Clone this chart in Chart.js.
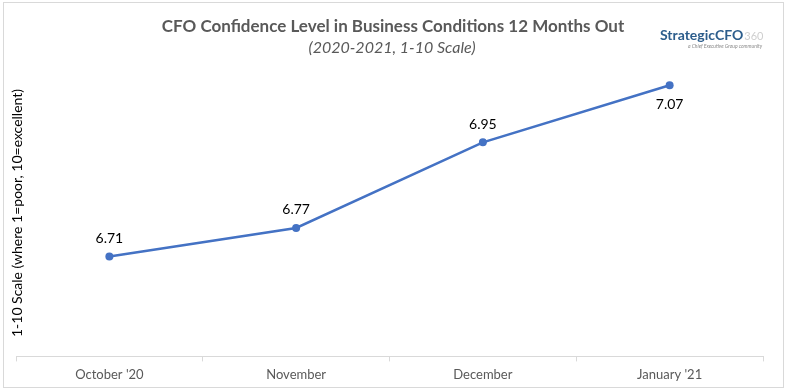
<!DOCTYPE html>
<html>
<head>
<meta charset="utf-8">
<script src="https://cdn.jsdelivr.net/npm/chart.js@4"></script>
<style>
  html, body { margin: 0; padding: 0; background: #fff; }
  canvas { display: block; }
</style>
</head>
<body>
<canvas id="chart" width="787" height="392"></canvas>
<script>
const months = ["October '20", "November", "December", "January '21"];
const confidence = [6.71, 6.77, 6.95, 7.07];
const labelBelow = [false, false, false, true];

const titleText = "CFO Confidence Level in Business Conditions 12 Months Out";
const subtitleText = "(2020-2021, 1-10 Scale)";
const yTitle = "1-10 Scale (where 1=poor, 10=excellent)";

const FONT = "Lato, 'Open Sans', sans-serif";

// frame, titles, logo and point labels
const decorations = {
  id: "decorations",
  beforeDraw(chart) {
    const c = chart.ctx;
    c.save();
    c.fillStyle = "#fff";
    c.fillRect(0, 0, chart.width, chart.height);
    c.strokeStyle = "#d9d9d9";
    c.lineWidth = 1;
    c.strokeRect(3.5, 2.5, 780, 385);
    c.restore();
  },
  afterDraw(chart) {
    const c = chart.ctx;
    c.save();
    c.textAlign = "center";
    c.textBaseline = "middle";
    c.fillStyle = "#595959";
    c.font = "bold 17px " + FONT;
    c.fillText(titleText, 393, 27);
    c.font = "italic 16px " + FONT;
    c.fillText(subtitleText, 392, 48);

    // y axis title
    c.save();
    c.translate(17, 213);
    c.rotate(-Math.PI / 2);
    c.font = "14px " + FONT;
    c.fillStyle = "#000";
    c.fillText(yTitle, 0, 0);
    c.restore();

    // logo
    c.textAlign = "left";
    c.textBaseline = "alphabetic";
    c.font = "bold 14px " + FONT;
    c.fillStyle = "#2c5d8c";
    c.fillText("StrategicCFO", 660, 40);
    const w = c.measureText("StrategicCFO").width;
    c.font = "11px " + FONT;
    c.fillStyle = "#cfcfcf";
    c.fillText("360", 660 + w + 1, 40);
    c.font = "italic 5px " + FONT;
    c.fillStyle = "#8a8a8a";
    c.fillText("a Chief Executive Group community", 688, 48);

    // point labels
    const meta = chart.getDatasetMeta(0);
    c.textAlign = "center";
    c.textBaseline = "middle";
    c.font = "14px " + FONT;
    c.fillStyle = "#000";
    meta.data.forEach((pt, i) => {
      const dy = labelBelow[i] ? 19 : -18;
      c.fillText(confidence[i].toFixed(2), pt.x, pt.y + dy);
    });
    c.restore();
  }
};

new Chart(document.getElementById("chart"), {
  type: "line",
  data: {
    labels: months,
    datasets: [{
      data: confidence,
      borderColor: "#4472c4",
      backgroundColor: "#4472c4",
      borderWidth: 2.5,
      pointRadius: 4,
      pointBorderWidth: 0,
      tension: 0
    }]
  },
  options: {
    responsive: false,
    animation: false,
    layout: { padding: { top: 71, left: 16, right: 24, bottom: 3 } },
    plugins: {
      legend: { display: false },
      tooltip: { enabled: false }
    },
    scales: {
      y: { display: false, min: 6.5, max: 7.1 },
      x: {
        offset: true,
        grid: {
          offset: true,
          drawOnChartArea: false,
          color: "#d9d9d9",
          tickLength: 5
        },
        border: { color: "#d9d9d9" },
        ticks: {
          padding: 6,
          color: "#595959",
          font: { family: FONT, size: 13 }
        }
      }
    }
  },
  plugins: [decorations]
});
</script>
</body>
</html>
